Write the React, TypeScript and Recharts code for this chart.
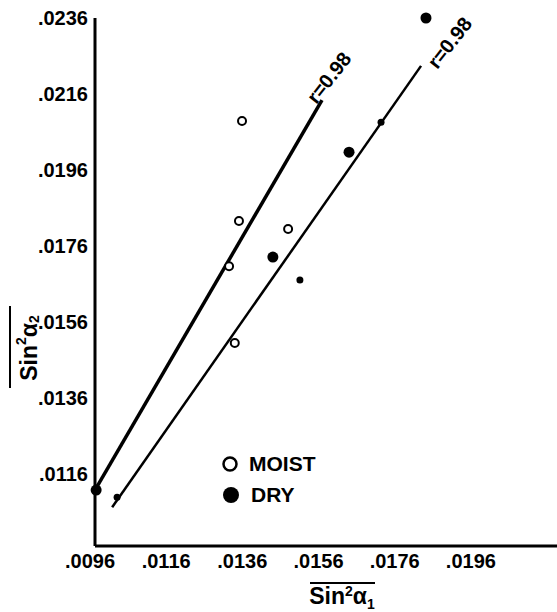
import React from "react";
import {
  ScatterChart,
  Scatter,
  XAxis,
  YAxis,
  ReferenceLine,
  ReferenceDot,
} from "recharts";

// tick values on both axes
const xTicks = [0.0096, 0.0116, 0.0136, 0.0156, 0.0176, 0.0196];
const yTicks = [0.0116, 0.0136, 0.0156, 0.0176, 0.0196, 0.0216, 0.0236];

const moist = [
  { x: 0.01346, y: 0.02089 },
  { x: 0.01338, y: 0.01826 },
  { x: 0.01312, y: 0.01707 },
  { x: 0.01467, y: 0.01805 },
  { x: 0.01327, y: 0.01505 },
];
const dry = [
  { x: 0.01829, y: 0.0236 },
  { x: 0.01627, y: 0.02007 },
  { x: 0.01427, y: 0.01731 },
  { x: 0.00963, y: 0.01118 },
];
const dryOnLine = [
  { x: 0.01711, y: 0.02086 },
  { x: 0.01498, y: 0.01671 },
  { x: 0.01018, y: 0.01099 },
];

// fitted lines (end points)
const moistFit = [
  { x: 0.00963, y: 0.01123 },
  { x: 0.01556, y: 0.02144 },
];
const dryFit = [
  { x: 0.01005, y: 0.01073 },
  { x: 0.01816, y: 0.02234 },
];
const fitLabels = [
  { x: 0.01574, y: 0.02203, text: "r=0.98" },
  { x: 0.01891, y: 0.02295, text: "r=0.98" },
];

const FONT = "'Liberation Sans', Arial, sans-serif";
const fmt = (v: number) => v.toFixed(4).replace(/^0/, "");

const OpenDot = (p: any) => (
  <circle cx={p.cx} cy={p.cy} r={4} fill="#fff" stroke="#000" strokeWidth={2} />
);
const BigDot = (p: any) => <circle cx={p.cx} cy={p.cy} r={5.5} fill="#000" />;
const SmallDot = (p: any) => <circle cx={p.cx} cy={p.cy} r={3.5} fill="#000" />;

const RLabel = (text: string) => (props: any) => {
  const vb = props.viewBox || {};
  const cx = vb.x + (vb.width || 0) / 2;
  const cy = vb.y + (vb.height || 0) / 2;
  return (
    <text
      x={cx}
      y={cy}
      textAnchor="middle"
      dominantBaseline="central"
      transform={`rotate(-52 ${cx} ${cy})`}
      fontFamily={FONT}
      fontWeight="bold"
      fontSize={20}
      fill="#000"
    >
      {text}
    </text>
  );
};

const YTitle = () => (
  <g>
    <line x1={10} y1={306} x2={10} y2={388} stroke="#000" strokeWidth={2} />
    <text
      x={29}
      y={348}
      textAnchor="middle"
      dominantBaseline="central"
      transform="rotate(-90 29 348)"
      fontFamily={FONT}
      fontWeight="bold"
      fontSize={23}
    >
      Sin
      <tspan dy={-8} fontSize={14}>2</tspan>
      <tspan dy={8}>α</tspan>
      <tspan dy={5} fontSize={14}>2</tspan>
    </text>
  </g>
);

const XTitle = () => (
  <g>
    <line x1={310} y1={583} x2={375} y2={583} stroke="#000" strokeWidth={2} />
    <text
      x={342}
      y={604}
      textAnchor="middle"
      fontFamily={FONT}
      fontWeight="bold"
      fontSize={23}
    >
      Sin
      <tspan dy={-8} fontSize={14}>2</tspan>
      <tspan dy={8}>α</tspan>
      <tspan dy={5} fontSize={14}>1</tspan>
    </text>
  </g>
);

export default function App() {
  return (
    <div style={{ position: "absolute", left: 0, top: 0, width: 557, height: 612, background: "#fff" }}>
      <ScatterChart
        width={557}
        height={612}
        margin={{ top: 18, right: 0, bottom: 0, left: 0 }}
      >
        <XAxis
          type="number"
          dataKey="x"
          domain={[0.0096, 0.02173]}
          ticks={xTicks}
          tickFormatter={fmt}
          height={66}
          axisLine={{ stroke: "#000", strokeWidth: 3 }}
          tickLine={false}
          tickSize={0}
          tickMargin={8}
          tick={{ fill: "#000", fontSize: 20, fontWeight: "bold", fontFamily: FONT, dx: -5 }}
        />
        <YAxis
          type="number"
          dataKey="y"
          domain={[0.00971, 0.0236]}
          ticks={yTicks}
          tickFormatter={fmt}
          width={95}
          axisLine={{ stroke: "#000", strokeWidth: 3 }}
          tickLine={false}
          tickSize={0}
          tickMargin={7}
          tick={{ fill: "#000", fontSize: 20, fontWeight: "bold", fontFamily: FONT }}
        />
        <ReferenceLine
          segment={moistFit}
          stroke="#000"
          strokeWidth={3.5}
          ifOverflow="visible"
        />
        <ReferenceLine
          segment={dryFit}
          stroke="#000"
          strokeWidth={2.5}
          ifOverflow="visible"
        />
        {fitLabels.map((l, i) => (
          <ReferenceDot
            key={i}
            x={l.x}
            y={l.y}
            r={0}
            fill="none"
            stroke="none"
            ifOverflow="visible"
            label={RLabel(l.text)}
          />
        ))}
        <Scatter data={moist} shape={OpenDot} isAnimationActive={false} />
        <Scatter data={dry} shape={BigDot} isAnimationActive={false} />
        <Scatter data={dryOnLine} shape={SmallDot} isAnimationActive={false} />
        <YTitle />
        <XTitle />
      </ScatterChart>
      <div
        style={{
          position: "absolute",
          left: 220,
          top: 448,
          fontFamily: FONT,
          fontWeight: "bold",
          fontSize: 21,
          lineHeight: "31px",
        }}
      >
        <div style={{ display: "flex", alignItems: "center" }}>
          <svg width={20} height={20}>
            <circle cx={10} cy={10} r={6.5} fill="#fff" stroke="#000" strokeWidth={2.5} />
          </svg>
          <span style={{ marginLeft: 9 }}>MOIST</span>
        </div>
        <div style={{ display: "flex", alignItems: "center" }}>
          <svg width={20} height={20}>
            <circle cx={11} cy={10} r={8} fill="#000" />
          </svg>
          <span style={{ marginLeft: 11 }}>DRY</span>
        </div>
      </div>
    </div>
  );
}
